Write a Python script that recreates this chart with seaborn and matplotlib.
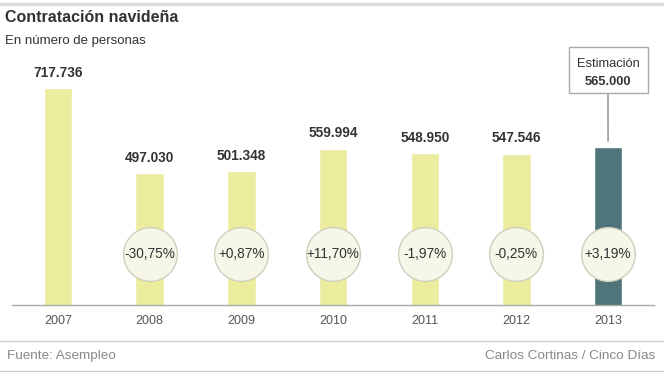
import matplotlib
matplotlib.use('Agg')
import matplotlib.pyplot as plt
import seaborn as sns
import pandas as pd
from matplotlib.patches import Rectangle
from matplotlib.lines import Line2D
import matplotlib.transforms as mtransforms

years = ['2007', '2008', '2009', '2010', '2011', '2012', '2013']
personas = [717736, 497030, 501348, 559994, 548950, 547546, 565000]
etiquetas = ['717.736', '497.030', '501.348', '559.994', '548.950', '547.546', '565.000']
variacion = ['', '-30,75%', '+0,87%', '+11,70%', '-1,97%', '-0,25%', '+3,19%']

sns.set_style('white')
plt.rcParams['font.family'] = ['Liberation Sans', 'DejaVu Sans']

data = pd.DataFrame({'year': years, 'personas': personas})
colores = ['#ecec9e'] * 6 + ['#4f7479']

W, H = 664, 378
fig = plt.figure(figsize=(W / 100, H / 100), dpi=100)
ax = fig.add_axes([12.2 / W, (H - 305) / H, 641.7 / W, 245 / H])

sns.barplot(data=data, x='year', y='personas', hue='year', palette=colores,
            legend=False, width=0.31, saturation=1, ax=ax)
ax.set_xlim(-0.5, 6.5)
ax.set_ylim(154187, 790452)

for s in ['top', 'right', 'left']:
    ax.spines[s].set_visible(False)
ax.spines['bottom'].set_color('#aaaaaa')
ax.spines['bottom'].set_linewidth(1)
ax.set_yticks([])
ax.set_xlabel('')
ax.set_ylabel('')
ax.tick_params(axis='x', length=0, pad=7, labelsize=9, labelcolor='#555555')

# etiquetas de valor
for i in range(6):
    ax.annotate(etiquetas[i], (i, personas[i]), xytext=(0, 6), textcoords='offset points',
                ha='center', va='bottom', fontsize=9.8, fontweight='bold', color='#333333')

# círculos de variación
trans = mtransforms.blended_transform_factory(ax.transData, ax.transAxes)
yc = (305 - 254) / 245
xs = list(range(1, 7))
ax.scatter(xs, [yc] * 6, s=1500, transform=trans, color='#f6f6e9',
           edgecolor='#cfcfbd', linewidth=1, zorder=3, clip_on=False)
for i in xs:
    ax.text(i, yc, variacion[i], transform=trans, ha='center', va='center',
            fontsize=9.8, color='#333333', zorder=4)

# caja de estimación
cx = 608
fig.patches.append(Rectangle(((cx - 39.5) / W, (H - 93) / H), 79 / W, 46 / H, transform=fig.transFigure,
                             facecolor='white', edgecolor='#aaaaaa', linewidth=1))
fig.text(cx / W, (H - 64) / H, 'Estimación', ha='center', va='center', fontsize=9.3, color='#333333')
fig.text(cx / W, (H - 82) / H, etiquetas[6], ha='center', va='center', fontsize=9.3,
         fontweight='bold', color='#333333')
ax.annotate('', xy=(6, personas[6]), xytext=(cx / W, (H - 93) / H), textcoords='figure fraction',
            arrowprops=dict(arrowstyle='-', color='#888888', lw=1, shrinkA=0, shrinkB=4))

# cabecera y pie
fig.add_artist(Line2D([0, 1], [(H - 4) / H] * 2, color='#dddddd', lw=2.5))
fig.text(5 / W, (H - 18) / H, 'Contratación navideña', fontsize=11.5, fontweight='bold',
         color='#333333', va='center')
fig.text(5 / W, (H - 41) / H, 'En número de personas', fontsize=9.5, color='#333333', va='center')
fig.add_artist(Line2D([0, 1], [(H - 341) / H] * 2, color='#cccccc', lw=1))
fig.add_artist(Line2D([0, 1], [(H - 371) / H] * 2, color='#cccccc', lw=1))
fig.text(7 / W, (H - 356) / H, 'Fuente: Asempleo', fontsize=9.7, color='#888888', va='center')
fig.text(655 / W, (H - 356) / H, 'Carlos Cortinas / Cinco Días', fontsize=9.7, color='#888888',
         va='center', ha='right')

fig.savefig('out.png', dpi=100)
